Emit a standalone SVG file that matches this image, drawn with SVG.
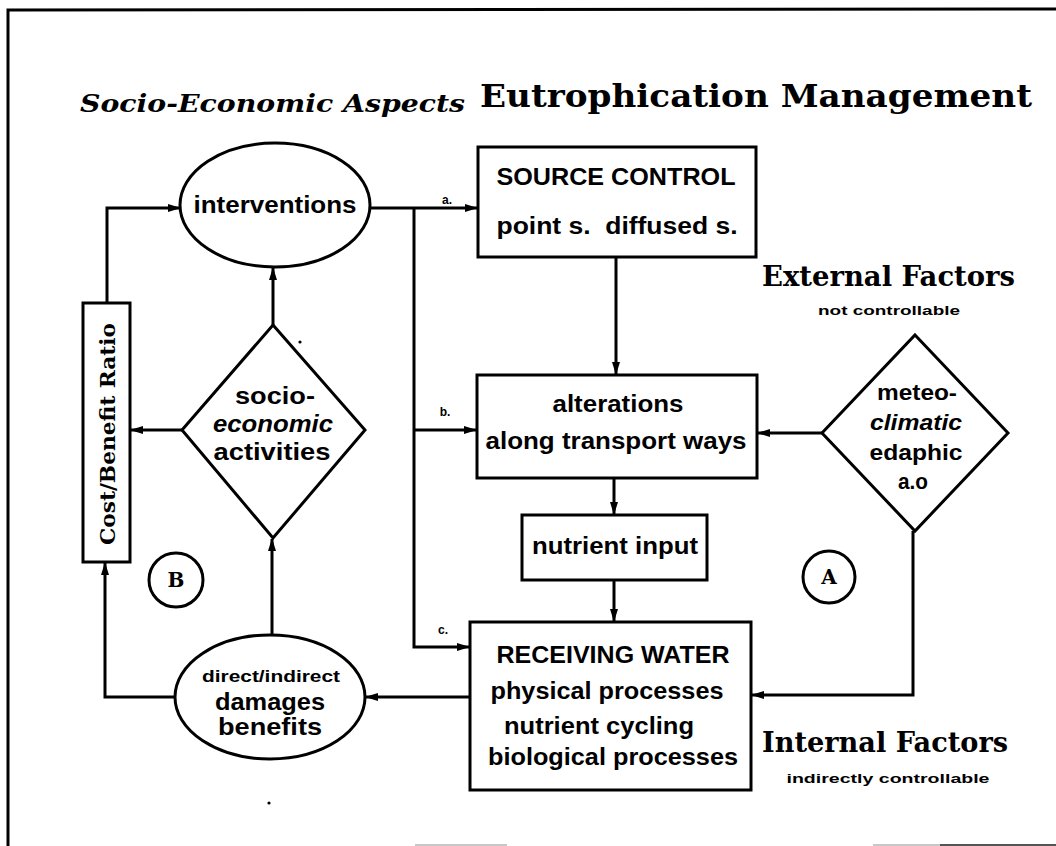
<svg xmlns="http://www.w3.org/2000/svg" width="1056" height="846" viewBox="0 0 1056 846">
<style>
.bg{fill:#ffffff}
.frame{fill:none;stroke:#000;stroke-width:3}
.shape{fill:#fff;stroke:#000;stroke-width:3}
.conn{fill:none;stroke:#000;stroke-width:3;stroke-linejoin:miter}
.t{font-family:"Liberation Sans",Arial,sans-serif;font-weight:bold;fill:#000;text-anchor:middle}
.s{font-family:"DejaVu Serif","Liberation Serif",serif;font-weight:bold;fill:#000}
.lbl{font-family:"Liberation Sans",Arial,sans-serif;font-weight:bold;fill:#000;font-size:12px;text-anchor:middle}
</style>
<defs>
<marker id="ah" viewBox="0 0 13 8" refX="12" refY="4" markerWidth="13" markerHeight="8" markerUnits="userSpaceOnUse" orient="auto">
<path d="M0,0 L13,4 L0,8 Z" fill="#000"/>
</marker>
</defs>
<rect class="bg" x="0" y="0" width="1056" height="846"/>
<g id="frame">
<path class="frame" d="M8,846 L8,10 L1056,9"/>
<path d="M415,845 L507,845 M873,845 L940,845" stroke="#c8c8c8" stroke-width="2"/>
<path d="M940,845 L1056,845" stroke="#555" stroke-width="2"/>
</g>
<g id="title">
<text class="s" x="80" y="112" font-size="24" font-style="italic" textLength="385" lengthAdjust="spacingAndGlyphs">Socio-Economic Aspects</text>
<text class="s" x="480" y="107" font-size="32" textLength="552" lengthAdjust="spacingAndGlyphs">Eutrophication Management</text>
</g>
<g id="connectors">
<path class="conn" d="M107,303 L107,208 L180,208" marker-end="url(#ah)"/>
<path class="conn" d="M273,325 L273,268" marker-end="url(#ah)"/>
<path class="conn" d="M182,430 L131,430" marker-end="url(#ah)"/>
<path class="conn" d="M272,635 L272,539" marker-end="url(#ah)"/>
<path class="conn" d="M175,697 L105,697 L105,563" marker-end="url(#ah)"/>
<path class="conn" d="M470,697 L366,697" marker-end="url(#ah)"/>
<path class="conn" d="M370,208 L477,208" marker-end="url(#ah)"/>
<path class="conn" d="M414,208 L414,647 L469,647" marker-end="url(#ah)"/>
<path class="conn" d="M414,430 L476,430" marker-end="url(#ah)"/>
<path class="conn" d="M616,257 L616,374" marker-end="url(#ah)"/>
<path class="conn" d="M614,478 L614,514" marker-end="url(#ah)"/>
<path class="conn" d="M614,580 L614,621" marker-end="url(#ah)"/>
<path class="conn" d="M822,433 L758,433" marker-end="url(#ah)"/>
<path class="conn" d="M913,531 L913,695 L752,695" marker-end="url(#ah)"/>
</g>
<g id="conn-labels">
<text class="lbl" x="447" y="204">a.</text>
<text class="lbl" x="445" y="416">b.</text>
<text class="lbl" x="443" y="634">c.</text>
</g>
<g id="interventions">
<ellipse class="shape" cx="275" cy="205" rx="95" ry="62"/>
<text class="t" x="275" y="213" font-size="23" textLength="163" lengthAdjust="spacingAndGlyphs">interventions</text>
</g>
<g id="cost-benefit">
<rect class="shape" x="83" y="303" width="47" height="259"/>
<text class="s" transform="translate(115,434) rotate(-90)" font-size="21" text-anchor="middle" textLength="222" lengthAdjust="spacingAndGlyphs">Cost/Benefit Ratio</text>
</g>
<g id="socio-economic">
<polygon class="shape" points="273,325 365,430 273,538 182,430"/>
<text class="t" x="275" y="404" font-size="23" textLength="80" lengthAdjust="spacingAndGlyphs">socio-</text>
<text class="t" x="273" y="432" font-size="23" font-style="italic" textLength="120" lengthAdjust="spacingAndGlyphs">economic</text>
<text class="t" x="272" y="460" font-size="23" textLength="117" lengthAdjust="spacingAndGlyphs">activities</text>
</g>
<g id="damages">
<ellipse class="shape" cx="270" cy="697" rx="95" ry="62"/>
<text class="t" x="271" y="682" font-size="16" textLength="138" lengthAdjust="spacingAndGlyphs">direct/indirect</text>
<text class="t" x="270" y="710" font-size="23" textLength="110" lengthAdjust="spacingAndGlyphs">damages</text>
<text class="t" x="270" y="735" font-size="23" textLength="104" lengthAdjust="spacingAndGlyphs">benefits</text>
</g>
<g id="source-control">
<rect class="shape" x="478" y="147" width="278" height="110"/>
<text class="t" x="616" y="185" font-size="23" textLength="239" lengthAdjust="spacingAndGlyphs">SOURCE CONTROL</text>
<text class="t" x="617" y="234" font-size="23" textLength="241" lengthAdjust="spacingAndGlyphs" xml:space="preserve">point s.  diffused s.</text>
</g>
<g id="alterations">
<rect class="shape" x="477" y="375" width="280" height="103"/>
<text class="t" x="618" y="412" font-size="23" textLength="131" lengthAdjust="spacingAndGlyphs">alterations</text>
<text class="t" x="616" y="449" font-size="23" textLength="261" lengthAdjust="spacingAndGlyphs">along transport ways</text>
</g>
<g id="nutrient-input">
<rect class="shape" x="522" y="515" width="185" height="65"/>
<text class="t" x="615" y="554" font-size="23" textLength="166" lengthAdjust="spacingAndGlyphs">nutrient input</text>
</g>
<g id="receiving-water">
<rect class="shape" x="470" y="622" width="281" height="168"/>
<text class="t" x="613" y="663" font-size="23" textLength="233" lengthAdjust="spacingAndGlyphs">RECEIVING WATER</text>
<text class="t" x="607" y="699" font-size="23" textLength="233" lengthAdjust="spacingAndGlyphs">physical processes</text>
<text class="t" x="599" y="734" font-size="23" textLength="190" lengthAdjust="spacingAndGlyphs">nutrient cycling</text>
<text class="t" x="613" y="765" font-size="23" textLength="250" lengthAdjust="spacingAndGlyphs">biological processes</text>
</g>
<g id="meteo">
<polygon class="shape" points="915,335 1008,433 915,531 822,433"/>
<text class="t" x="917" y="400" font-size="22" textLength="80" lengthAdjust="spacingAndGlyphs">meteo-</text>
<text class="t" x="916" y="430" font-size="22" font-style="italic" textLength="92" lengthAdjust="spacingAndGlyphs">climatic</text>
<text class="t" x="916" y="460" font-size="22" textLength="93" lengthAdjust="spacingAndGlyphs">edaphic</text>
<text class="t" x="913" y="489" font-size="22" textLength="30" lengthAdjust="spacingAndGlyphs">a.o</text>
</g>
<g id="external-factors">
<text class="s" x="762" y="286" font-size="27" textLength="253" lengthAdjust="spacingAndGlyphs">External Factors</text>
<text class="t" x="889" y="315" font-size="13" textLength="142" lengthAdjust="spacingAndGlyphs">not controllable</text>
</g>
<g id="internal-factors">
<text class="s" x="762" y="752" font-size="27" textLength="246" lengthAdjust="spacingAndGlyphs">Internal Factors</text>
<text class="t" x="888" y="783" font-size="13" textLength="203" lengthAdjust="spacingAndGlyphs">indirectly controllable</text>
</g>
<g id="circle-A">
<circle class="shape" cx="829" cy="577" r="26"/>
<text class="s" x="829" y="584" font-size="20" text-anchor="middle">A</text>
</g>
<g id="circle-B">
<circle class="shape" cx="176" cy="580" r="27"/>
<text class="s" x="176" y="587" font-size="20" text-anchor="middle">B</text>
</g>
<g id="specks">
<circle cx="300" cy="342" r="1.6" fill="#000"/>
<circle cx="269" cy="803" r="1.6" fill="#000"/>
</g>
</svg>
